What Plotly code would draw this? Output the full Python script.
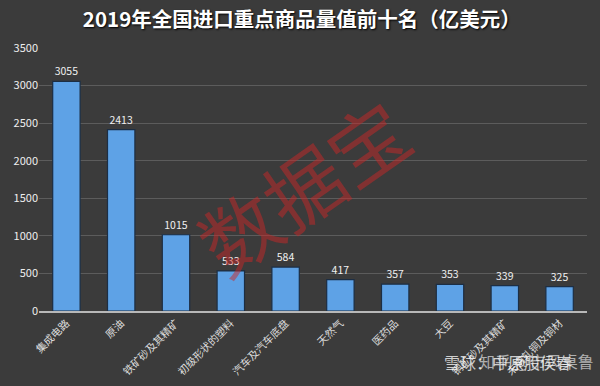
import plotly.graph_objects as go

categories = ["集成电路", "原油", "铁矿砂及其精矿", "初级形状的塑料", "汽车及汽车底盘",
              "天然气", "医药品", "大豆", "铜矿砂及其精矿", "未锻轧铜及铜材"]
values = [3055, 2413, 1015, 533, 584, 417, 357, 353, 339, 325]
y_ticks = [0, 500, 1000, 1500, 2000, 2500, 3000, 3500]

FONT = "Noto Sans CJK SC"

fig = go.Figure()
fig.add_trace(go.Bar(
    x=categories, y=values,
    text=[str(v) for v in values], textposition="outside",
    textfont=dict(color="#f0f0f0", size=10.5, family=FONT),
    cliponaxis=False,
    marker=dict(color="#5ea2e6", line=dict(color="#1c2e44", width=1.2)),
))

fig.update_layout(
    width=600, height=386,
    margin=dict(l=39, r=13, t=48, b=75),
    paper_bgcolor="#3b3b3b", plot_bgcolor="rgba(0,0,0,0)",
    bargap=0.5, showlegend=False,
    title=dict(text="<b>2019年全国进口重点商品量值前十名（亿美元）</b>",
               x=0.503, xanchor="center", y=0.948, yanchor="middle",
               font=dict(family=FONT, size=20.5, color="#ffffff",
                         shadow="1px 1px 2px #000")),
    xaxis=dict(tickangle=-45, tickfont=dict(family=FONT, size=10.5, color="#dddddd"),
               showline=True, linecolor="#b8b8b8", linewidth=2, showgrid=False,
               ticks="", automargin=False),
    yaxis=dict(range=[0, 3500], tickvals=y_ticks,
               tickfont=dict(family=FONT, size=11, color="#eeeeee"),
               showgrid=True, gridcolor="#5c5c5c", gridwidth=1,
               zeroline=False, ticks="", showline=False, automargin=False),
)

# watermark
fig.add_annotation(text="数据宝", xref="paper", yref="paper", x=0.48, y=0.48,
                   showarrow=False, textangle=-35,
                   font=dict(family=FONT, size=78, color="rgba(200,40,40,0.5)"))
fig.add_annotation(text="雪球：中原股侯春", xref="paper", yref="paper", x=0.735, y=-0.195,
                   xanchor="left", yanchor="middle", showarrow=False,
                   font=dict(family=FONT, size=16, color="rgba(255,255,255,0.75)"))
fig.add_annotation(text="知乎 @市风桌鲁", xref="paper", yref="paper", x=0.80, y=-0.19,
                   xanchor="left", yanchor="middle", showarrow=False,
                   font=dict(family=FONT, size=16, color="rgba(255,255,255,0.6)"))

fig.write_html("out.html", config={"displayModeBar": False},
               post_script="document.body.style.margin='0';document.body.style.background='#3b3b3b';")
